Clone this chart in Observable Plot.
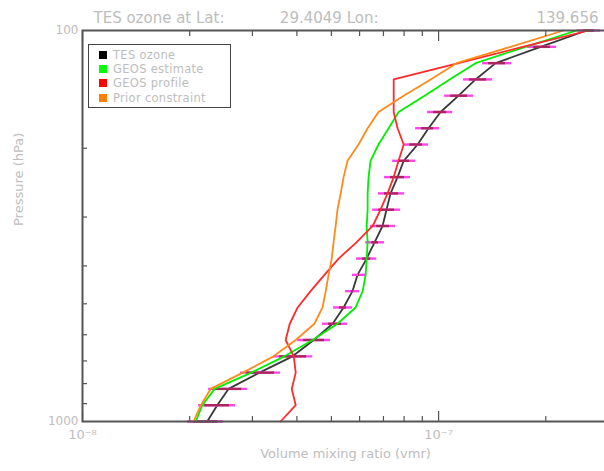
<!DOCTYPE html>
<html><head><meta charset="utf-8">
<script src="https://cdn.jsdelivr.net/npm/d3@7"></script>
<script src="https://cdn.jsdelivr.net/npm/@observablehq/plot@0.6"></script>
<style>
html,body{margin:0;padding:0;background:#fff;overflow:hidden}
#wrap{position:relative;width:604px;height:471px;overflow:hidden;font-family:"DejaVu Sans",sans-serif}
#wrap svg{position:absolute;left:0;top:0;overflow:visible;max-width:none !important;height:471px !important}
#legend{position:absolute;left:88px;top:44px;width:141px;height:62px;border:1.5px solid #444;background:#fff}
.lrow{position:absolute;left:10px;height:14px;display:flex;align-items:center;font-size:11.5px;color:#bdbdbd;white-space:nowrap;letter-spacing:0.3px}
.lsq{width:8px;height:8px;margin-right:6px}
</style></head><body><div id="wrap"></div>
<script>
// Pressure levels (hPa)
const pressure = [1000, 908.5, 825.4, 749.9, 681.3, 618.9, 562.3, 510.9, 464.2, 421.7, 383.1, 348.1, 316.2, 287.3, 261.0, 237.1, 215.4, 195.7, 177.8, 161.6, 146.8, 133.4, 121.2, 110.1, 100];
// Volume mixing ratios
const tesOzone = [2.24e-8,2.39e-8,2.57e-8,3.14e-8,3.89e-8,4.46e-8,5.04e-8,5.41e-8,5.73e-8,5.92e-8,6.28e-8,6.61e-8,6.96e-8,7.14e-8,7.33e-8,7.67e-8,7.98e-8,8.73e-8,9.37e-8,10.13e-8,11.38e-8,12.70e-8,14.46e-8,19.34e-8,26.04e-8];
const tesErrLow = [1.97e-8,2.12e-8,2.26e-8,2.78e-8,3.44e-8,4.02e-8,4.72e-8,5.07e-8,5.48e-8,5.73e-8,5.88e-8,6.24e-8,6.44e-8,6.53e-8,6.78e-8,7.05e-8,7.43e-8,7.98e-8,8.62e-8,9.31e-8,10.40e-8,11.75e-8,13.29e-8,17.78e-8,24.58e-8];
const tesErrHigh = [2.49e-8,2.69e-8,2.91e-8,3.60e-8,4.43e-8,4.97e-8,5.55e-8,5.73e-8,6.00e-8,6.24e-8,6.70e-8,7.05e-8,7.57e-8,7.82e-8,8.03e-8,8.34e-8,8.62e-8,9.37e-8,10.07e-8,10.95e-8,12.54e-8,14.18e-8,16.04e-8,21.45e-8,28.51e-8];
const geosEstimate = [2.08e-8,2.17e-8,2.35e-8,2.98e-8,3.69e-8,4.43e-8,5.20e-8,5.85e-8,6.12e-8,6.24e-8,6.28e-8,6.32e-8,6.28e-8,6.32e-8,6.32e-8,6.36e-8,6.44e-8,6.78e-8,7.24e-8,7.72e-8,9.14e-8,10.74e-8,12.70e-8,17.55e-8,24.42e-8];
const geosProfile = [3.60e-8,3.97e-8,3.87e-8,3.97e-8,3.92e-8,3.72e-8,3.82e-8,4.02e-8,4.37e-8,4.78e-8,5.24e-8,5.88e-8,6.53e-8,6.87e-8,7.19e-8,7.48e-8,7.72e-8,7.98e-8,7.67e-8,7.48e-8,7.48e-8,7.48e-8,11.38e-8,17.22e-8,26.38e-8];
const priorConstraint = [2.05e-8,2.15e-8,2.29e-8,2.82e-8,3.44e-8,3.97e-8,4.48e-8,4.72e-8,4.82e-8,4.91e-8,5.01e-8,5.07e-8,5.14e-8,5.20e-8,5.31e-8,5.41e-8,5.55e-8,5.96e-8,6.32e-8,6.78e-8,7.98e-8,9.50e-8,11.23e-8,15.93e-8,22.44e-8];

const legendLabels = ["TES ozone", "GEOS estimate", "GEOS profile", "Prior constraint"];
const legendColors = ["#000000", "#00ff00", "#ff0000", "#ff8000"];

const xMajorTicks = [1e-8, 1e-7];
const xMajorLabels = ["10\u207B\u2078", "10\u207B\u2077"];
const xMinorTicks = [2e-8,3e-8,4e-8,5e-8,6e-8,7e-8,8e-8,9e-8,2e-7,3e-7];
const yMajorTicks = [100, 1000];
const yMajorLabels = ["100", "1000"];
const yMinorTicks = [200,300,400,500,600,700,800,900];

const titleParts = ["TES ozone at Lat:", "29.4049 Lon:", "139.656"];
const xLabel = "Volume mixing ratio (vmr)";
const yLabel = "Pressure (hPa)";

const lineColors = {tes: "#383838", est: "#00ee00", prof: "#ff2a2a", prior: "#ff8a1c"};
const mk = (vals) => vals.map((v, i) => ({vmr: v, p: pressure[i]}));
const bars = pressure.map((p, i) => ({p, lo: tesErrLow[i], hi: tesErrHigh[i]}));
const txt = "#bdbdbd";

const chart = Plot.plot({
  width: 610, height: 471,
  marginLeft: 82, marginRight: 2, marginTop: 30, marginBottom: 50,
  style: {fontFamily: "DejaVu Sans, sans-serif", background: "transparent", maxWidth: "none"},
  x: {type: "log", domain: [1e-8, 3e-7], axis: null},
  y: {type: "log", domain: [1000, 100], axis: null},
  marks: [
    Plot.line(mk(tesOzone), {x: "vmr", y: "p", stroke: lineColors.tes, strokeWidth: 1.8}),
    Plot.ruleY(bars, {x1: "lo", x2: "hi", y: "p", stroke: "#ff44ee", strokeWidth: 2.4}),
    Plot.ruleY(bars, {x1: "lo", x2: "hi", y: "p", stroke: "#a8285e", strokeWidth: 2.4, insetLeft: 6, insetRight: 6}),
    Plot.line(mk(geosEstimate), {x: "vmr", y: "p", stroke: lineColors.est, strokeWidth: 1.8}),
    Plot.line(mk(geosProfile), {x: "vmr", y: "p", stroke: lineColors.prof, strokeWidth: 1.8}),
    Plot.line(mk(priorConstraint), {x: "vmr", y: "p", stroke: lineColors.prior, strokeWidth: 1.8}),
    Plot.frame({stroke: "#555", strokeWidth: 2}),
    // inward ticks
    Plot.axisX(xMinorTicks, {anchor: "bottom", tickSize: 5, dy: -5, tickFormat: () => "", stroke: "#555", strokeWidth: 1.2}),
    Plot.axisX(xMajorTicks, {anchor: "bottom", tickSize: 10, dy: -10, tickFormat: () => "", stroke: "#555", strokeWidth: 1.2}),
    Plot.axisX(xMinorTicks, {anchor: "top", tickSize: 5, dy: 5, tickFormat: () => "", stroke: "#555", strokeWidth: 1.2}),
    Plot.axisX(xMajorTicks, {anchor: "top", tickSize: 10, dy: 10, tickFormat: () => "", stroke: "#555", strokeWidth: 1.2}),
    Plot.axisY(yMinorTicks, {anchor: "left", tickSize: 5, dx: 5, tickFormat: () => "", stroke: "#555", strokeWidth: 1.2}),
    // tick labels
    Plot.text(xMajorTicks.map((v, i) => ({v, t: xMajorLabels[i]})), {x: "v", text: "t", frameAnchor: "bottom", dy: 17, fill: txt, fontSize: 13}),
    Plot.text(yMajorTicks.map((v, i) => ({v, t: yMajorLabels[i]})), {y: "v", text: "t", frameAnchor: "left", dx: -4, textAnchor: "end", fill: txt, fontSize: 12}),
    // axis titles
    Plot.text([xLabel], {frameAnchor: "bottom", dy: 36, fill: txt, fontSize: 13}),
    Plot.text([yLabel], {frameAnchor: "left", dx: -64, rotate: -90, fill: txt, fontSize: 13}),
    // title
    Plot.text([titleParts[0]], {frameAnchor: "top-left", dx: 11, dy: -18, textAnchor: "start", fill: txt, fontSize: 15}),
    Plot.text([titleParts[1]], {frameAnchor: "top-left", dx: 296, dy: -18, textAnchor: "end", fill: txt, fontSize: 15}),
    Plot.text([titleParts[2]], {frameAnchor: "top-left", dx: 516, dy: -18, textAnchor: "end", fill: txt, fontSize: 15})
  ]
});
const wrap = document.getElementById("wrap");
wrap.appendChild(chart);

const legend = document.createElement("div");
legend.id = "legend";
legendLabels.forEach((lab, i) => {
  const row = document.createElement("div");
  row.className = "lrow";
  row.style.top = (3 + i * 14.2) + "px";
  const sq = document.createElement("span");
  sq.className = "lsq";
  sq.style.background = legendColors[i];
  row.appendChild(sq);
  row.appendChild(document.createTextNode(lab));
  legend.appendChild(row);
});
wrap.appendChild(legend);
</script></body></html>
